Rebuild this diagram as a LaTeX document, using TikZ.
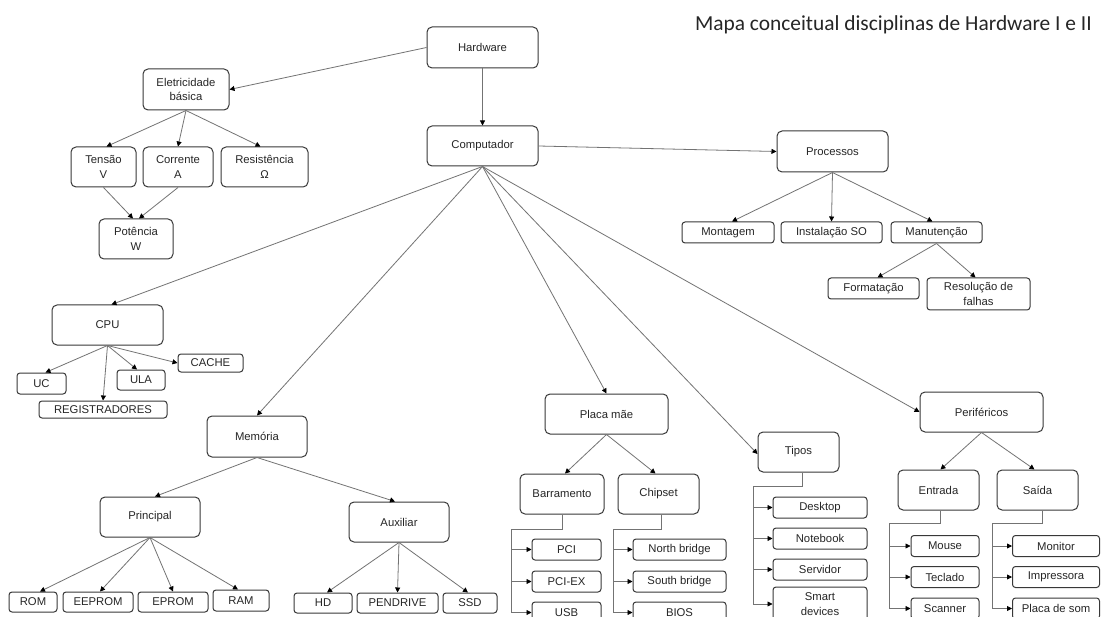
\documentclass[tikz,border=0pt]{standalone}
\usepackage{fontspec}
\setmainfont{Liberation Sans}
\newfontfamily\titlefont{Carlito}
\usetikzlibrary{arrows.meta}
\begin{document}
\begin{tikzpicture}[x=1pt,y=-1pt,
  box/.style={draw=black!78, line width=1pt, rounded corners=5pt, inner sep=0pt, align=center, text=black!85, font=\fontsize{11.3}{14.5}\selectfont},
  sbox/.style={box, rounded corners=3pt},
  conn/.style={draw=black!55, line width=0.8pt, -{Triangle[length=5pt,width=5pt,color=black]}},
  plain/.style={draw=black!55, line width=0.8pt}]
\clip (0,0) rectangle (1102,617);
\fill[white] (0,0) rectangle (1102,617);

\node[anchor=base east, inner sep=0pt, text=black!85, font=\titlefont\fontsize{21.4}{24}\selectfont] (title) at (1092,31) {Mapa conceitual disciplinas de Hardware I e II};

% top
\node[box,minimum width=111pt,minimum height=41pt] (hw) at (482.5,47.5) {Hardware};
\node[box,minimum width=111pt,minimum height=40pt] (comp) at (482.5,146) {Computador};
\node[box,minimum width=86pt,minimum height=41pt] (ele) at (186,89.5) {Eletricidade\\básica};
\node[box,minimum width=65pt,minimum height=40pt] (ten) at (103.5,167) {Tensão\\V};
\node[box,minimum width=70pt,minimum height=40pt] (cor) at (178,167) {Corrente\\A};
\node[box,minimum width=87pt,minimum height=40pt] (res) at (264.5,167) {Resistência\\Ω};
\node[box,minimum width=74pt,minimum height=40pt] (pot) at (136,239) {Potência\\W};

% processos
\node[box,minimum width=111pt,minimum height=41pt] (proc) at (832.5,151.5) {Processos};
\node[sbox,minimum width=92pt,minimum height=21pt] (mont) at (728,232.5) {Montagem};
\node[sbox,minimum width=101pt,minimum height=21pt] (inst) at (831.5,232.5) {Instalação SO};
\node[sbox,minimum width=91pt,minimum height=21pt] (manu) at (936.5,232.5) {Manutenção};
\node[sbox,minimum width=91pt,minimum height=21pt] (form) at (873.5,288.5) {Formatação};
\node[sbox,minimum width=103pt,minimum height=32pt] (resf) at (978.5,294) {Resolução de\\falhas};

% cpu
\node[box,minimum width=111pt,minimum height=40pt] (cpu) at (107.5,325) {CPU};
\node[sbox,minimum width=49pt,minimum height=21pt] (uc) at (41.5,383.5) {UC};
\node[sbox,minimum width=128pt,minimum height=17pt] (reg) at (103,409.5) {REGISTRADORES};
\node[sbox,minimum width=48pt,minimum height=20pt] (ula) at (141,380) {ULA};
\node[sbox,minimum width=65pt,minimum height=18pt] (cache) at (210.5,363) {CACHE};

% memoria
\node[box,minimum width=100pt,minimum height=41pt] (mem) at (257,436.5) {Memória};
\node[box,minimum width=100pt,minimum height=40pt] (prin) at (150,517) {Principal};
\node[box,minimum width=100pt,minimum height=40pt] (aux) at (399,522) {Auxiliar};
\node[sbox,minimum width=48pt,minimum height=20pt] (rom) at (33,602) {ROM};
\node[sbox,minimum width=70pt,minimum height=20pt] (eeprom) at (98,602) {EEPROM};
\node[sbox,minimum width=70pt,minimum height=20pt] (eprom) at (173,602) {EPROM};
\node[sbox,minimum width=56pt,minimum height=21pt] (ram) at (241,600.5) {RAM};
\node[sbox,minimum width=58pt,minimum height=20pt] (hd) at (323,603) {HD};
\node[sbox,minimum width=81pt,minimum height=20pt] (pen) at (397.5,603) {PENDRIVE};
\node[sbox,minimum width=54pt,minimum height=20pt] (ssd) at (470,603) {SSD};

% placa mae
\node[box,minimum width=123pt,minimum height=40pt] (placa) at (606.5,414) {Placa mãe};
\node[box,minimum width=84pt,minimum height=40pt] (barr) at (562,494) {Barramento};
\node[box,minimum width=81pt,minimum height=40pt] (chip) at (658.5,494) {Chipset};
\node[sbox,minimum width=69pt,minimum height=21pt] (pci) at (566.5,549.5) {PCI};
\node[sbox,minimum width=69pt,minimum height=21pt] (pciex) at (566.5,581.5) {PCI-EX};
\node[sbox,minimum width=69pt,minimum height=21pt] (usb) at (566.5,612.5) {USB};
\node[sbox,minimum width=93pt,minimum height=21pt] (nb) at (679.5,549.5) {North bridge};
\node[sbox,minimum width=93pt,minimum height=21pt] (sb) at (679.5,581.5) {South bridge};
\node[sbox,minimum width=93pt,minimum height=21pt] (bios) at (679.5,612.5) {BIOS};

% tipos
\node[box,minimum width=81pt,minimum height=40pt] (tipos) at (798.5,452) {Tipos};
\node[sbox,minimum width=94pt,minimum height=21pt] (desk) at (820,507.5) {Desktop};
\node[sbox,minimum width=94pt,minimum height=21pt] (note) at (820,538.5) {Notebook};
\node[sbox,minimum width=94pt,minimum height=21pt] (serv) at (820,569.5) {Servidor};
\node[sbox,minimum width=94pt,minimum height=34pt] (smart) at (820,604) {Smart\\devices};

% perifericos
\node[box,minimum width=123pt,minimum height=40pt] (peri) at (981.5,412) {Periféricos};
\node[box,minimum width=81pt,minimum height=40pt] (ent) at (938.5,490) {Entrada};
\node[box,minimum width=81pt,minimum height=40pt] (sai) at (1037.5,490) {Saída};
\node[sbox,minimum width=68pt,minimum height=21pt] (mouse) at (945,546) {Mouse};
\node[sbox,minimum width=68pt,minimum height=21pt] (tec) at (945,577) {Teclado};
\node[sbox,minimum width=68pt,minimum height=21pt] (scan) at (945,608.5) {Scanner};
\node[sbox,minimum width=87pt,minimum height=21pt] (mon) at (1056,546) {Monitor};
\node[sbox,minimum width=87pt,minimum height=21pt] (imp) at (1056,577) {Impressora};
\node[sbox,minimum width=87pt,minimum height=21pt] (som) at (1056,608.5) {Placa de som};

% connectors
\draw[conn] (hw.west) -- (ele.east);
\draw[conn] (hw.south) -- (comp.north);
\draw[conn] (ele.south) -- ([xshift=3pt]ten.north);
\draw[conn] (ele.south) -- (cor.north);
\draw[conn] (ele.south) -- ([xshift=-4pt]res.north);
\draw[conn] (ten.south) -- ([xshift=-3pt]pot.north);
\draw[conn] (cor.south) -- ([xshift=3pt]pot.north);

\draw[conn] (comp.east) -- (proc.west);
\draw[conn] (proc.south) -- ([xshift=4pt]mont.north);
\draw[conn] (proc.south) -- (inst.north);
\draw[conn] (proc.south) -- ([xshift=-4pt]manu.north);
\draw[conn] (manu.south) -- ([xshift=4pt]form.north);
\draw[conn] (manu.south) -- ([xshift=-3pt]resf.north);

\draw[conn] (comp.south) -- ([xshift=4pt]cpu.north);
\draw[conn] (comp.south) -- (mem.north);
\draw[conn] (comp.south) -- (placa.north);
\draw[conn] (comp.south) -- ([yshift=-2pt]tipos.west);
\draw[conn] (comp.south) -- (peri.west);

\draw[conn] (cpu.south) -- ([xshift=4pt]uc.north);
\draw[conn] (cpu.south) -- (reg.north);
\draw[conn] (cpu.south) -- ([xshift=-4pt]ula.north);
\draw[conn] (cpu.south) -- (cache.west);

\draw[conn] (mem.south) -- ([xshift=5pt]prin.north);
\draw[conn] (mem.south) -- ([xshift=-4pt]aux.north);
\draw[conn] (prin.south) -- ([xshift=7pt]rom.north);
\draw[conn] (prin.south) -- ([xshift=2pt]eeprom.north);
\draw[conn] (prin.south) -- (eprom.north);
\draw[conn] (prin.south) -- ([xshift=-3pt]ram.north);
\draw[conn] (aux.south) -- ([xshift=4pt]hd.north);
\draw[conn] (aux.south) -- (pen.north);
\draw[conn] (aux.south) -- ([xshift=-2pt]ssd.north);

\draw[conn] (placa.south) -- ([xshift=3pt]barr.north);
\draw[conn] (placa.south) -- ([xshift=-3pt]chip.north);
\draw[conn] (peri.south) -- ([xshift=2pt]ent.north);
\draw[conn] (peri.south) -- ([xshift=-3pt]sai.north);

\coordinate (bj) at (511,529);
\draw[plain] (barr.south) |- (bj);
\draw[conn] (bj) |- (pci.west);
\draw[conn] (bj) |- (pciex.west);
\draw[conn] (bj) |- (usb.west);

\coordinate (cj) at (613,529);
\draw[plain] ([xshift=3pt]chip.south) |- (cj);
\draw[conn] (cj) |- (nb.west);
\draw[conn] (cj) |- (sb.west);
\draw[conn] (cj) |- (bios.west);

\coordinate (tj) at (753,486);
\draw[plain] ([xshift=4pt]tipos.south) |- (tj);
\draw[conn] (tj) |- (desk.west);
\draw[conn] (tj) |- (note.west);
\draw[conn] (tj) |- (serv.west);
\draw[conn] (tj) |- (smart.west);

\coordinate (ej) at (889,523);
\draw[plain] ([xshift=1.5pt]ent.south) |- (ej);
\draw[conn] (ej) |- (mouse.west);
\draw[conn] (ej) |- (tec.west);
\draw[conn] (ej) |- (scan.west);

\coordinate (sj) at (992,523);
\draw[plain] ([xshift=4.5pt]sai.south) |- (sj);
\draw[conn] (sj) |- (mon.west);
\draw[conn] (sj) |- (imp.west);
\draw[conn] (sj) |- (som.west);
\end{tikzpicture}
\end{document}
